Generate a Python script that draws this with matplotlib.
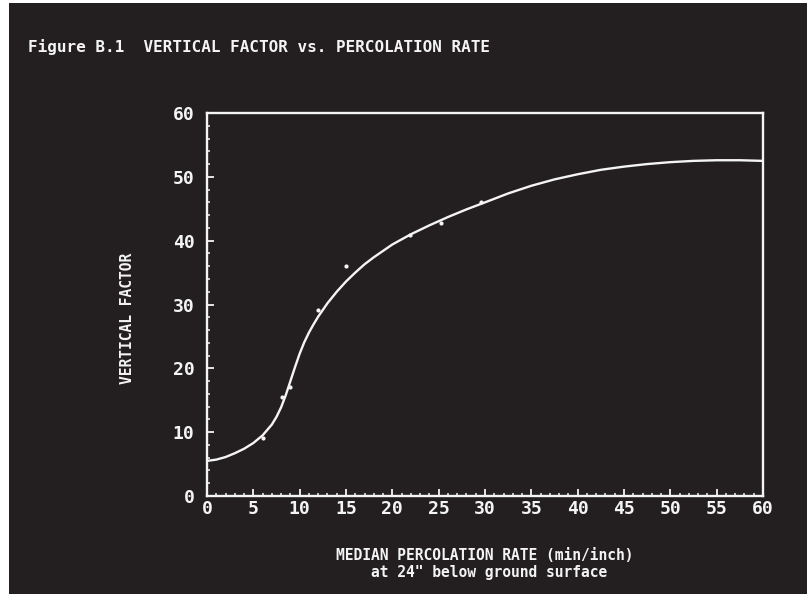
import matplotlib
matplotlib.use("Agg")
import matplotlib.pyplot as plt
from matplotlib.patches import Rectangle
from matplotlib.ticker import MultipleLocator

# Fitted curve
curve_x = [0, 1, 2, 3, 4, 5, 6, 7, 7.5, 8, 8.5, 9, 9.5, 10, 10.5, 11, 11.5, 12, 13, 14, 15,
           16, 17, 18, 20, 22, 24, 26, 28, 30, 32.5, 35, 37.5, 40, 42.5, 45, 47.5, 50,
           52.5, 55, 57.5, 60]
curve_y = [5.5, 5.7, 6.1, 6.7, 7.4, 8.3, 9.5, 11.2, 12.4, 13.9, 15.8, 18.0, 20.2, 22.3, 24.1,
           25.6, 26.9, 28.1, 30.2, 32.0, 33.6, 35.0, 36.3, 37.4, 39.4, 41.0, 42.4, 43.7,
           44.9, 46.0, 47.4, 48.6, 49.6, 50.4, 51.1, 51.6, 52.0, 52.3, 52.5, 52.6, 52.6, 52.5]

# Observed points
pts_x = [6.0, 8.1, 9.0, 12.0, 15.0, 21.9, 25.3, 29.6]
pts_y = [9.1, 15.5, 17.1, 29.1, 36.1, 40.9, 42.8, 46.0]

xticks = [0, 5, 10, 15, 20, 25, 30, 35, 40, 45, 50, 55, 60]
yticks = [0, 10, 20, 30, 40, 50, 60]

BG = "#231f20"
FG = "#f4f4f4"
MONO = ["DejaVu Sans Mono"]

fig = plt.figure(figsize=(8.07, 5.94), dpi=100, facecolor="white")
fig.patches.append(Rectangle((9 / 807, 0), 1 - 9 / 807, 1 - 3 / 594,
                             transform=fig.transFigure, facecolor=BG,
                             edgecolor="none", zorder=-10))

ax = fig.add_axes([207 / 807, 1 - 496 / 594, (763 - 207) / 807, (496 - 113) / 594])
ax.set_facecolor(BG)
ax.plot(curve_x, curve_y, color=FG, lw=1.7, solid_capstyle="round", solid_joinstyle="round")
ax.scatter(pts_x, pts_y, s=9, color=FG, zorder=3, linewidths=0)

ax.set_xlim(0, 60)
ax.set_ylim(0, 60)
ax.set_xticks(xticks)
ax.set_yticks(yticks)
ax.xaxis.set_minor_locator(MultipleLocator(1))
ax.yaxis.set_minor_locator(MultipleLocator(2))
for s in ax.spines.values():
    s.set_color(FG)
    s.set_linewidth(1.7)
ax.tick_params(which="major", direction="in", length=5, width=1.3, color=FG,
               labelcolor=FG, labelsize=13, top=False, right=False)
ax.tick_params(which="minor", direction="in", length=2.5, width=1.1, color=FG,
               top=False, right=False)
ax.tick_params(axis="x", which="major", pad=3)
ax.tick_params(axis="y", which="major", pad=9)
for lab in ax.get_xticklabels() + ax.get_yticklabels():
    lab.set_family(MONO)
    lab.set_fontweight("bold")

fig.text(28 / 807, 1 - 47 / 594, "Figure B.1  VERTICAL FACTOR vs. PERCOLATION RATE",
         color=FG, family=MONO, fontsize=11.5, fontweight="bold", ha="left", va="center")
fig.text(128 / 807, 1 - 318 / 594, "VERTICAL FACTOR", color=FG, family=MONO,
         fontsize=10.5, fontweight="bold", rotation=90, ha="center", va="center")
fig.text(485 / 807, 1 - 555 / 594, "MEDIAN PERCOLATION RATE (min/inch)", color=FG,
         family=MONO, fontsize=10.5, fontweight="bold", ha="center", va="center")
fig.text(489 / 807, 1 - 573 / 594, "at 24\" below ground surface", color=FG,
         family=MONO, fontsize=10.5, fontweight="bold", ha="center", va="center")

fig.savefig("out.png", dpi=100, facecolor=fig.get_facecolor())
